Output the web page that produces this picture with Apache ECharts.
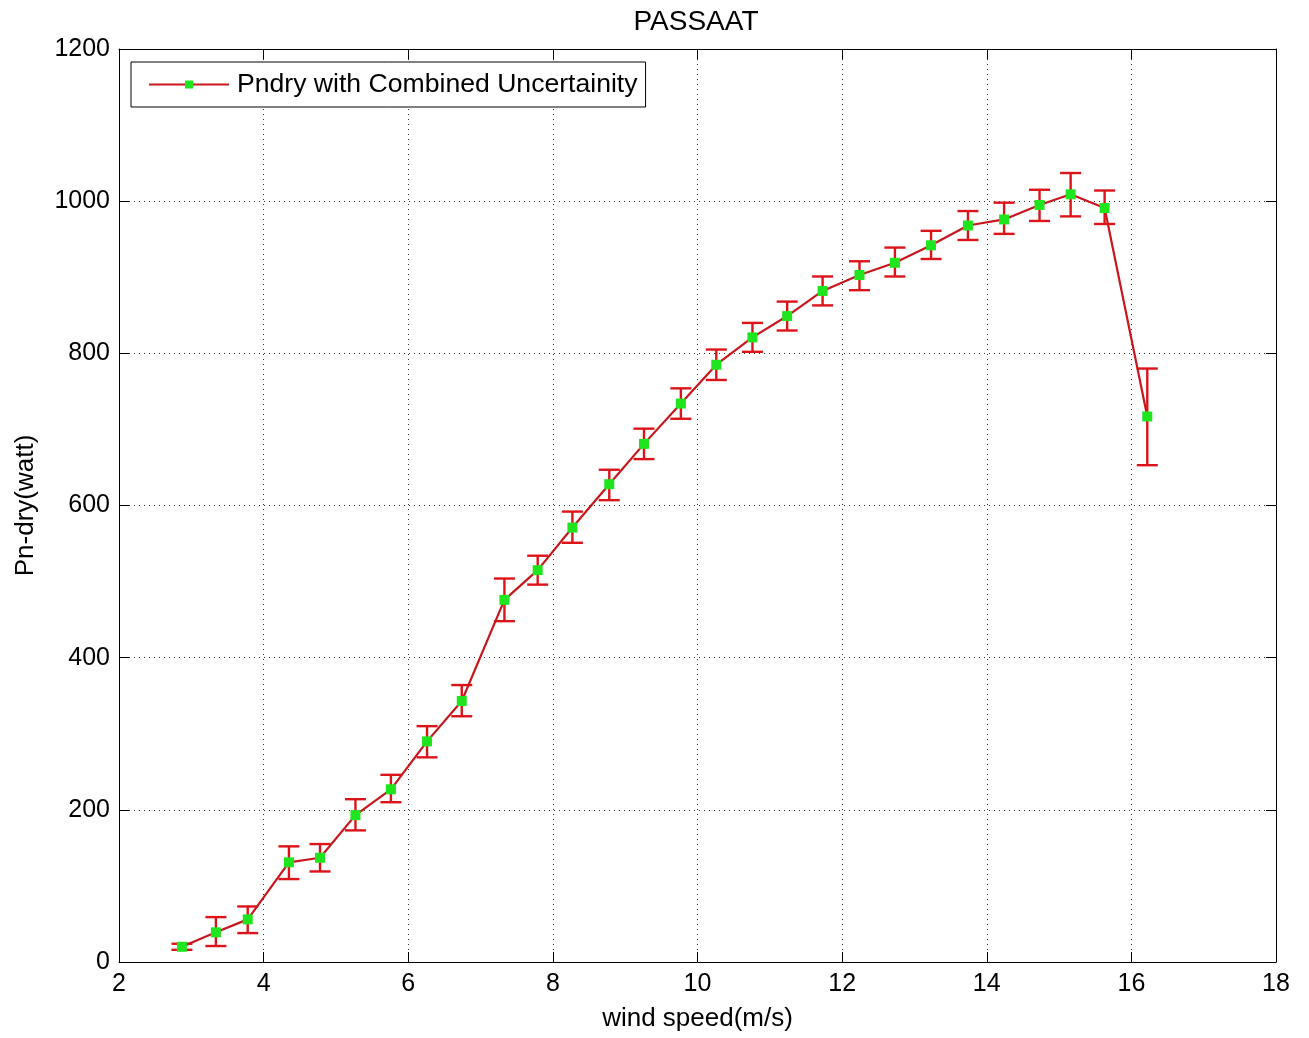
<!DOCTYPE html>
<html>
<head>
<meta charset="utf-8">
<script src="https://cdn.jsdelivr.net/npm/echarts@6/dist/echarts.min.js"></script>
<style>
html,body{margin:0;padding:0;background:#fff;}
#chart{width:1309px;height:1038px;}
</style>
</head>
<body>
<div id="chart"></div>
<script>
const windSpeed = [2.87, 3.34, 3.78, 4.35, 4.78, 5.27, 5.76, 6.26, 6.74, 7.33, 7.79, 8.27, 8.78, 9.26, 9.77, 10.26, 10.76, 11.24, 11.73, 12.24, 12.73, 13.23, 13.74, 14.24, 14.73, 15.16, 15.63, 16.22];
const pnDry     = [20, 39, 56, 131, 137, 193, 227, 290, 343, 476, 515, 571, 628, 681, 734, 785, 821, 849, 882, 903, 919, 942, 968, 976, 995, 1009, 991, 717];
const errLow    = [4, 18, 18, 22, 18, 20, 17, 21, 20, 28, 19, 20, 21, 20, 20, 20, 19, 19, 19, 20, 18, 18, 19, 19, 21, 29, 21, 64];
const errHigh   = [4, 20, 17, 21, 18, 21, 19, 20, 21, 28, 19, 21, 19, 20, 20, 20, 19, 19, 19, 18, 20, 19, 19, 22, 20, 28, 23, 63];
const xTicks = [2, 4, 6, 8, 10, 12, 14, 16, 18];
const yTicks = [0, 200, 400, 600, 800, 1000, 1200];

const lineData = windSpeed.map((x, i) => [x, pnDry[i]]);
const errData = windSpeed.map((x, i) => [x, pnDry[i] - errLow[i], pnDry[i] + errHigh[i]]);

const LINE_RED = '#c8161d';
const ERR_RED = '#dc1419';
const font = 'Liberation Sans, Arial, sans-serif';

const chart = echarts.init(document.getElementById('chart'));
chart.setOption({
  animation: false,
  backgroundColor: '#ffffff',
  title: {
    text: 'PASSAAT', left: 691, top: 3, textAlign: 'center',
    textStyle: { fontFamily: font, fontSize: 28, fontWeight: 'normal', color: '#000' }
  },
  legend: {
    left: 131, top: 62,
    padding: [9, 8, 9, 17],
    itemWidth: 80, itemHeight: 10, itemGap: 0,
    borderColor: '#000', borderWidth: 1, backgroundColor: '#fff',
    data: ['Pndry with Combined Uncertainity'],
    textStyle: { fontFamily: font, fontSize: 26.6, color: '#000', padding: [0, 0, 0, 3] }
  },
  grid: { left: 119, right: 33, top: 49, bottom: 76, show: false },
  xAxis: [{
    type: 'value', min: 2, max: 18, interval: 2,
    name: 'wind speed(m/s)', nameLocation: 'middle', nameGap: 44,
    nameTextStyle: { fontFamily: font, fontSize: 26, color: '#000' },
    axisLine: { show: true, onZero: false, lineStyle: { color: '#000', width: 1 } },
    axisTick: { show: true, inside: true, length: 10, lineStyle: { color: '#000' } },
    axisLabel: { fontFamily: font, fontSize: 25, color: '#000', margin: 10,
      formatter: v => xTicks.includes(v) ? String(v) : '' },
    splitLine: { show: true, lineStyle: { color: '#333', type: [1, 4], width: 1 } }
  }, {
    type: 'value', min: 2, max: 18, interval: 2, position: 'top',
    axisLine: { show: true, onZero: false, lineStyle: { color: '#000', width: 1 } },
    axisTick: { show: true, inside: true, length: 10, lineStyle: { color: '#000' } },
    axisLabel: { show: false }, splitLine: { show: false }
  }],
  yAxis: [{
    type: 'value', min: 0, max: 1200, interval: 200,
    name: 'Pn-dry(watt)', nameLocation: 'middle', nameGap: 80, nameRotate: 90,
    nameTextStyle: { fontFamily: font, fontSize: 26, color: '#000' },
    axisLine: { show: true, onZero: false, lineStyle: { color: '#000', width: 1 } },
    axisTick: { show: true, inside: true, length: 10, lineStyle: { color: '#000' } },
    axisLabel: { fontFamily: font, fontSize: 25, color: '#000', margin: 9,
      formatter: v => yTicks.includes(v) ? String(v) : '' },
    splitLine: { show: true, lineStyle: { color: '#333', type: [1, 4], width: 1 } }
  }, {
    type: 'value', min: 0, max: 1200, interval: 200, position: 'right',
    axisLine: { show: true, onZero: false, lineStyle: { color: '#000', width: 1 } },
    axisTick: { show: true, inside: true, length: 10, lineStyle: { color: '#000' } },
    axisLabel: { show: false }, splitLine: { show: false }
  }],
  series: [{
    type: 'custom',
    name: 'err',
    xAxisIndex: 0, yAxisIndex: 0,
    data: errData,
    z: 3,
    renderItem: function (params, api) {
      const x = api.value(0);
      const lo = api.coord([x, api.value(1)]);
      const hi = api.coord([x, api.value(2)]);
      const hw = 10.5;
      const st = { stroke: ERR_RED, lineWidth: 2.4 };
      return {
        type: 'group',
        children: [
          { type: 'line', shape: { x1: lo[0], y1: lo[1], x2: hi[0], y2: hi[1] }, style: st },
          { type: 'line', shape: { x1: lo[0] - hw, y1: lo[1], x2: lo[0] + hw, y2: lo[1] }, style: st },
          { type: 'line', shape: { x1: hi[0] - hw, y1: hi[1], x2: hi[0] + hw, y2: hi[1] }, style: st }
        ]
      };
    }
  }, {
    type: 'line',
    name: 'Pndry with Combined Uncertainity',
    xAxisIndex: 0, yAxisIndex: 0,
    data: lineData,
    z: 4,
    symbol: 'rect', symbolSize: 10, showAllSymbol: true,
    lineStyle: { color: LINE_RED, width: 2.2 },
    itemStyle: { color: '#1ee51e', borderWidth: 0 },
    emphasis: { disabled: true }
  }]
});
</script>
</body>
</html>
